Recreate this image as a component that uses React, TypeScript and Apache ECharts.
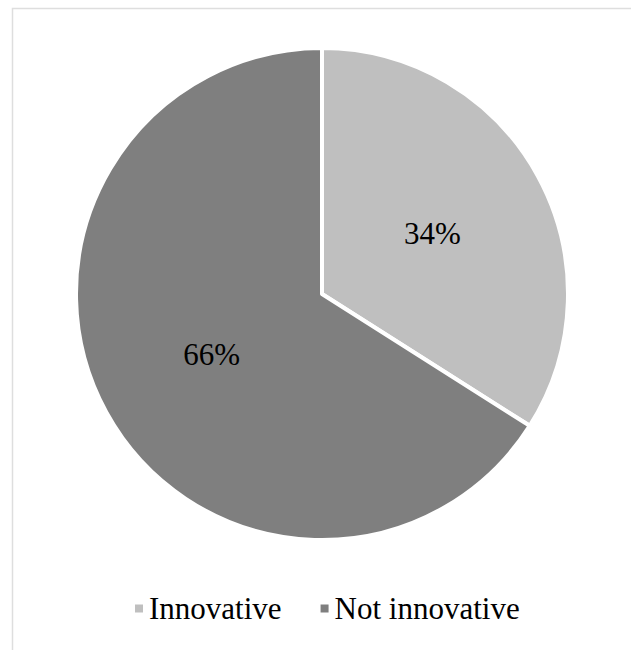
import React, { useEffect, useRef } from "react";
import * as echarts from "echarts";

const categories = ["Innovative", "Not innovative"];
const values = [34, 66];
const colors = ["#bfbfbf", "#7f7f7f"];

const SERIF = "'Liberation Serif', 'Times New Roman', serif";

export default function App() {
  const ref = useRef<HTMLDivElement>(null);
  useEffect(() => {
    if (!ref.current) return;
    const chart = echarts.init(ref.current, null, { renderer: "svg" });
    chart.setOption({
      animation: false,
      backgroundColor: "#ffffff",
      textStyle: { fontFamily: SERIF, color: "#000" },
      graphic: [
        {
          type: "rect",
          shape: { x: 12.5, y: 8.5, width: 700, height: 700 },
          style: { fill: "none", stroke: "#dedede", lineWidth: 1.5 },
          silent: true,
        },
      ],
      legend: {
        data: categories,
        left: 128,
        top: 588,
        icon: "rect",
        itemWidth: 10,
        itemHeight: 10,
        itemGap: 37,
        textStyle: { fontFamily: SERIF, fontSize: 31, color: "#000" },
      },
      series: [
        {
          type: "pie",
          center: [322, 294],
          radius: 246,
          startAngle: 90,
          clockwise: true,
          label: {
            show: true,
            position: "inside",
            formatter: "{p|{d}%}",
            rich: {
              p: { fontFamily: SERIF, fontSize: 31, color: "#000", fontWeight: "normal" },
            },
            fontFamily: SERIF,
            fontSize: 31,
            color: "#000",
            textBorderWidth: 0,
          },
          labelLine: { show: false },
          itemStyle: { borderColor: "#ffffff", borderWidth: 4 },
          emphasis: { disabled: true },
          data: categories.map((c, i) => ({
            name: c,
            value: values[i],
            itemStyle: { color: colors[i] },
          })),
        },
      ],
    });
    return () => chart.dispose();
  }, []);
  return (
    <div
      ref={ref}
      style={{ position: "absolute", left: 0, top: 0, width: 631, height: 650 }}
    />
  );
}
